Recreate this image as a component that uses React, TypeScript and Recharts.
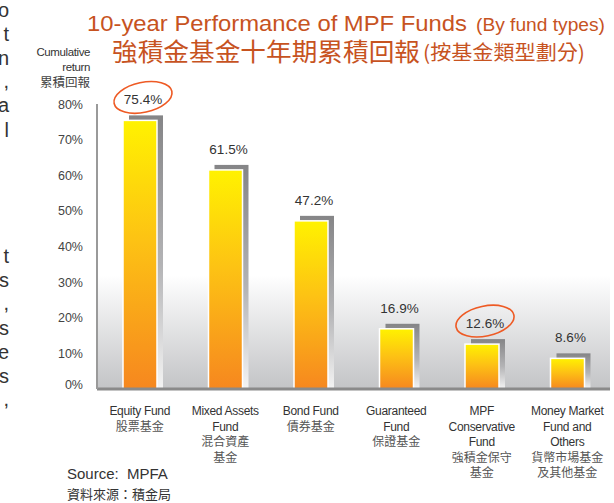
import React from 'react';
import { BarChart, Bar, XAxis, YAxis, ReferenceArea, LabelList } from 'recharts';

const categoriesEn: string[][] = [
  ['Equity Fund'],
  ['Mixed Assets', 'Fund'],
  ['Bond Fund'],
  ['Guaranteed', 'Fund'],
  ['MPF', 'Conservative', 'Fund'],
  ['Money Market', 'Fund and', 'Others'],
];
const categoriesZh: string[][] = [
  ['股票基金'],
  ['混合資產', '基金'],
  ['債券基金'],
  ['保證基金'],
  ['強積金保守', '基金'],
  ['貨幣市場基金', '及其他基金'],
];
const returns = [75.4, 61.5, 47.2, 16.9, 12.6, 8.6];
const highlighted = [true, false, false, false, true, false];
const yTicks = [0, 10, 20, 30, 40, 50, 60, 70, 80];

const titleEn = '10-year Performance of MPF Funds';
const titleEnSub = '(By fund types)';
const titleZh = '強積金基金十年期累積回報';
const titleZhSub = '(按基金類型劃分)';
const yTitle = ['Cumulative', 'return', '累積回報'];
const sourceEn = 'Source:\u00a0 MPFA';
const sourceZh = '資料來源：積金局';

// cropped fragments of neighbouring page text at the left edge
const sideChars = ['o', 't', 'n', ',', 'a', 'l', 't', 's', ',', 's', 'e', 's', ','];
const sideBaselines = [17, 41, 65, 88, 112, 137, 263, 287, 310, 335, 359, 383, 406];

const data = returns.map((v, i) => ({ key: String(i), value: v, highlight: highlighted[i] }));

const EN_FONT = '"Liberation Sans", Arial, sans-serif';
const ZH_FONT = '"Noto Sans CJK TC", "Noto Sans CJK SC", sans-serif';
const TITLE_COLOR = '#c7531f';

const BarShape = (props: any) => {
  const { x, y, width, height } = props;
  if (height == null || height <= 0) return null;
  return (
    <g>
      <rect x={x + 6} y={y - 5} width={width} height={height + 5} fill="url(#shadowGrad)" />
      <rect x={x} y={y} width={width} height={height} fill="url(#barGrad)" stroke="#ffffff" strokeWidth={1.5} />
    </g>
  );
};

const ValueLabel = (props: any) => {
  const { x, y, width, value, index } = props;
  const cx = x + width / 2 + 3;
  return (
    <g>
      <text x={cx} y={y - 16} textAnchor="middle" fontSize={13.5} fill="#333" fontFamily={EN_FONT}>
        {`${Number(value).toFixed(1)}%`}
      </text>
      {highlighted[index] ? (
        <ellipse
          cx={cx}
          cy={y - 23}
          rx={29.5}
          ry={15}
          fill="none"
          stroke="#ee5a24"
          strokeWidth={1.6}
          transform={`rotate(-12 ${cx} ${y - 23})`}
        />
      ) : null}
    </g>
  );
};

const XTick = (props: any) => {
  const { x, y, payload } = props;
  const i = Number(payload.value);
  const en = categoriesEn[i];
  const zh = categoriesZh[i];
  const lh = 15.5;
  return (
    <g>
      {en.map((t, k) => (
        <text key={'e' + k} x={x} y={y + 26 + k * lh} textAnchor="middle" fontSize={12} fill="#333" fontFamily={EN_FONT} letterSpacing={-0.3}>
          {t}
        </text>
      ))}
      {zh.map((t, k) => (
        <text key={'z' + k} x={x} y={y + 26 + (en.length + k) * lh} textAnchor="middle" fontSize={12} fill="#555" fontFamily={ZH_FONT}>
          {t}
        </text>
      ))}
    </g>
  );
};

const YTick = (props: any) => {
  const { x, y, payload } = props;
  const dy = payload.value === 0 ? -5 : 0;
  return (
    <text x={x} y={y + 4.5 + dy} textAnchor="end" fontSize={12.5} fill="#444" fontFamily={EN_FONT}>
      {`${payload.value}%`}
    </text>
  );
};

export default function App() {
  return (
    <div style={{ position: 'absolute', left: 0, top: 0, width: 614, height: 503, background: '#fff' }}>
      <svg width={614} height={503} style={{ position: 'absolute', left: 0, top: 0 }}>
        {sideChars.map((c, k) => (
          <text key={k} x={9} y={sideBaselines[k]} textAnchor="end" fontSize={20} fill="#333" fontFamily={EN_FONT}>
            {c}
          </text>
        ))}
        <text x={87} y={31} fontSize={21.5} fill={TITLE_COLOR} fontFamily={EN_FONT} textLength={380} lengthAdjust="spacingAndGlyphs">
          {titleEn}
        </text>
        <text x={476} y={31} fontSize={17.5} fill={TITLE_COLOR} fontFamily={EN_FONT} textLength={129} lengthAdjust="spacingAndGlyphs">
          {titleEnSub}
        </text>
        <text x={112} y={61} fontSize={25} fill={TITLE_COLOR} fontFamily={ZH_FONT} textLength={308} lengthAdjust="spacingAndGlyphs">
          {titleZh}
        </text>
        <text x={423} y={60} fontSize={20} fill={TITLE_COLOR} fontFamily={ZH_FONT} textLength={162} lengthAdjust="spacingAndGlyphs">
          {titleZhSub}
        </text>
        <text x={90} y={56} textAnchor="end" fontSize={11.5} fill="#333" fontFamily={EN_FONT} letterSpacing={-0.4}>{yTitle[0]}</text>
        <text x={90} y={71} textAnchor="end" fontSize={11.5} fill="#333" fontFamily={EN_FONT} letterSpacing={-0.4}>{yTitle[1]}</text>
        <text x={90} y={87} textAnchor="end" fontSize={12.5} fill="#444" fontFamily={ZH_FONT}>{yTitle[2]}</text>
        <text x={67} y={479} fontSize={15} fill="#333" fontFamily={EN_FONT}>{sourceEn}</text>
        <text x={67} y={499} fontSize={13} fill="#333" fontFamily={ZH_FONT}>{sourceZh}</text>
      </svg>
      <div style={{ position: 'absolute', left: 0, top: 0 }}>
        <BarChart width={614} height={503} data={data} margin={{ top: 104, right: 4, bottom: 14, left: 57 }} barSize={34}>
          <defs>
            <linearGradient id="barGrad" x1="0" y1="0" x2="0" y2="1">
              <stop offset="0%" stopColor="#fff200" />
              <stop offset="45%" stopColor="#fdc214" />
              <stop offset="100%" stopColor="#f6871f" />
            </linearGradient>
            <linearGradient id="shadowGrad" x1="0" y1="0" x2="0" y2="1">
              <stop offset="0%" stopColor="#858587" />
              <stop offset="55%" stopColor="#b4b4b6" />
              <stop offset="100%" stopColor="#f4f4f4" />
            </linearGradient>
            <linearGradient id="bgGrad" x1="0" y1="0" x2="0" y2="1">
              <stop offset="0%" stopColor="#ffffff" />
              <stop offset="60%" stopColor="#ffffff" />
              <stop offset="100%" stopColor="#c3c4c6" />
            </linearGradient>
          </defs>
          <ReferenceArea y1={0} y2={80} fill="url(#bgGrad)" fillOpacity={1} stroke="none" />
          <XAxis
            dataKey="key"
            height={100}
            axisLine={{ stroke: '#8a8a8a', strokeWidth: 3 }}
            tickLine={false}
            tickSize={0}
            tickMargin={0}
            tick={<XTick />}
            interval={0}
          />
          <YAxis
            width={40}
            domain={[0, 80]}
            ticks={yTicks}
            axisLine={{ stroke: '#9a9a9a', strokeWidth: 2 }}
            tickLine={false}
            tickMargin={8}
            tick={<YTick />}
          />
          <Bar dataKey="value" shape={<BarShape />} isAnimationActive={false}>
            <LabelList dataKey="value" content={<ValueLabel />} />
          </Bar>
        </BarChart>
      </div>
    </div>
  );
}
